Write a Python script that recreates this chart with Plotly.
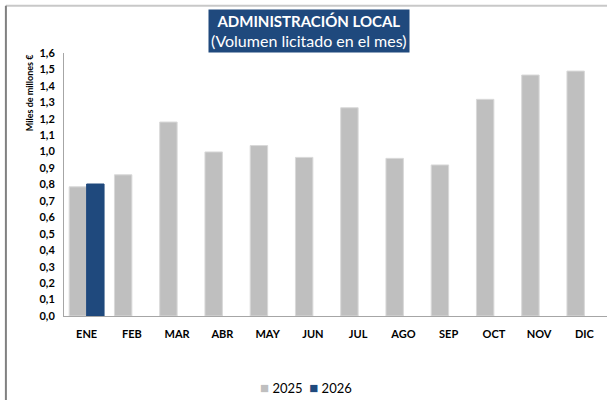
import plotly.graph_objects as go

meses = ["ENE", "FEB", "MAR", "ABR", "MAY", "JUN", "JUL", "AGO", "SEP", "OCT", "NOV", "DIC"]
vol_2025 = [0.786, 0.859, 1.18, 0.998, 1.037, 0.965, 1.267, 0.959, 0.919, 1.318, 1.466, 1.49]
vol_2026 = [0.803, None, None, None, None, None, None, None, None, None, None, None]
y_ticks = [i / 10 for i in range(17)]
y_labels = [f"{v:.1f}".replace(".", ",") for v in y_ticks]

GRIS = "#bfbfbf"
AZUL = "#1f497d"

fig = go.Figure()
fig.add_trace(go.Bar(x=meses, y=vol_2025, name="2025",
                     marker=dict(color=GRIS, line=dict(color="#d9d9d9", width=1))))
fig.add_trace(go.Bar(x=meses, y=vol_2026, name="2026",
                     marker=dict(color=AZUL, line=dict(color=AZUL, width=1))))

fig.update_layout(
    width=607, height=400,
    margin=dict(l=64, r=0, t=53, b=84),
    paper_bgcolor="white", plot_bgcolor="white",
    barmode="group", bargap=0.23, bargroupgap=0,
    font=dict(family="Lato, sans-serif", color="black"),
    showlegend=False,
)
fig.update_xaxes(showline=True, linecolor="#a6a6a6", linewidth=1, ticks="", automargin=False,
                 tickfont=dict(size=11, family="Lato", weight="bold"), ticklabelstandoff=8)
fig.update_yaxes(range=[0, 1.6], tickvals=y_ticks, ticktext=y_labels, showgrid=False,
                 showline=True, linecolor="#a6a6a6", linewidth=1, ticks="", zeroline=False,
                 automargin=False,
                 tickfont=dict(size=11, family="Lato", weight="bold"), ticklabelstandoff=6)

# título del eje Y, arriba como en el original
fig.add_annotation(xref="paper", yref="paper", x=-0.063, y=0.85, xanchor="center", yanchor="middle",
                   text="<b>Miles de millones €</b>", textangle=-90, showarrow=False,
                   font=dict(size=9, family="Lato"))

# cuadro del título
fig.add_annotation(xref="paper", yref="paper", x=0.452, y=1.082, xanchor="center", yanchor="middle",
                   text="<b>ADMINISTRACIÓN LOCAL</b><br><span style='font-size:16px'>(Volumen licitado en el mes)</span>",
                   showarrow=False, bgcolor=AZUL, borderpad=2,
                   font=dict(color="white", size=15, family="Lato"))

# leyenda compacta, como en el original
fig.add_annotation(xref="paper", yref="paper", x=0.446, y=-0.27, xanchor="center", yanchor="middle",
                   text=(f"<span style='color:{GRIS};font-size:15px'>■</span>&nbsp;2025&nbsp;&nbsp;"
                         f"<span style='color:{AZUL};font-size:15px'>■</span>&nbsp;2026"),
                   showarrow=False, font=dict(size=13, family="Lato"))

# marco exterior
fig.add_shape(type="line", xref="paper", yref="paper", x0=-0.107, x1=1.0, y0=1.18, y1=1.18,
              line=dict(color="#c8c8c8", width=2))
fig.add_shape(type="line", xref="paper", yref="paper", x0=-0.107, x1=-0.107, y0=-0.32, y1=1.18,
              line=dict(color="#808080", width=2))

fig.write_html("out.html", config={"displayModeBar": False},
               post_script="document.body.style.margin='0';")
